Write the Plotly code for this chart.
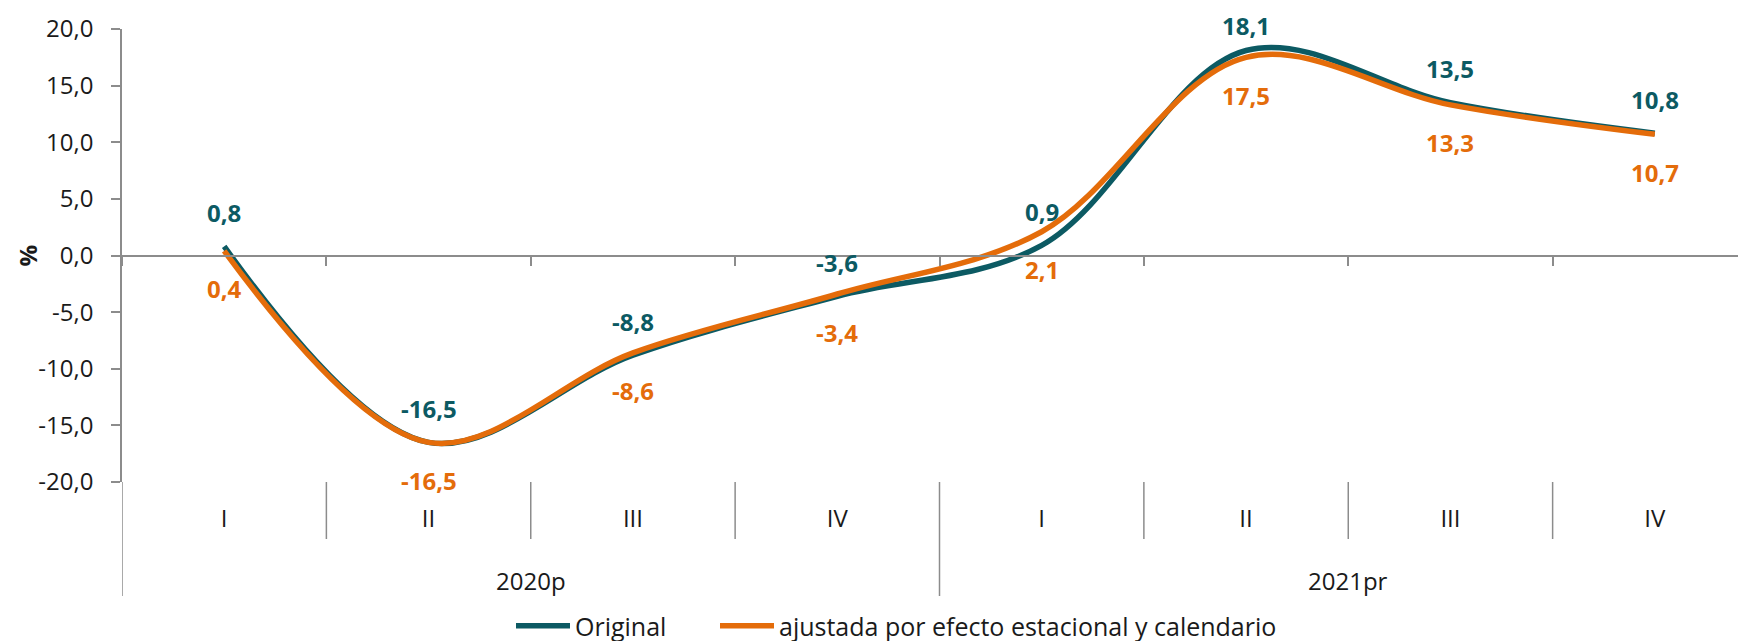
import plotly.graph_objects as go

# ---- data ----
years = ["2020p", "2021pr"]
quarters = ["I", "II", "III", "IV", "I", "II", "III", "IV"]
year_of_point = [0, 0, 0, 0, 1, 1, 1, 1]
original = [0.8, -16.5, -8.8, -3.6, 0.9, 18.1, 13.5, 10.8]
ajustada = [0.4, -16.5, -8.6, -3.4, 2.1, 17.5, 13.3, 10.7]
y_ticks = [-20, -15, -10, -5, 0, 5, 10, 15, 20]

name_orig = "Original"
name_adj = "ajustada por efecto estacional y calendario"

TEAL = "#0C5A63"
ORANGE = "#E46C0A"
GRAY = "#8C8C8C"
TXT = "#1A1A1A"
FONT = "Open Sans"
FS = 24

# page body has an 8px margin: figure coordinates = screen coordinates - 8
W, H = 1738, 633
L, T = 114, 21
PLOT_BOTTOM = 474
plot_h = PLOT_BOTTOM - T
plot_w = W - L
Y_MIN, Y_MAX = -20, 20

def fmt(v):
    return f"{v:.1f}".replace(".", ",")

def py(fig_y):
    return (PLOT_BOTTOM - fig_y) / plot_h

def px(fig_x):
    return (fig_x - L) / plot_w

def label_shift(v, shift, min_center=17):
    # keep labels inside the figure, like the source chart does
    pix = T + (Y_MAX - v) / (Y_MAX - Y_MIN) * plot_h
    center = pix - shift
    if center < min_center:
        shift = pix - min_center
    return shift

xs = list(range(len(quarters)))
n = len(quarters)
x_range = [-0.5, n - 0.5 - 11 / 204.2]

fig = go.Figure()
fig.add_trace(go.Scatter(x=xs, y=original, mode="lines", name=name_orig, legend="legend",
                         line=dict(color=TEAL, width=5.5, shape="spline", smoothing=1.0),
                         hoverinfo="skip"))
fig.add_trace(go.Scatter(x=xs, y=ajustada, mode="lines", name=name_adj, legend="legend2",
                         line=dict(color=ORANGE, width=5.5, shape="spline", smoothing=1.0),
                         hoverinfo="skip"))
# invisible trace to carry the zero-line axis
fig.add_trace(go.Scatter(x=[0], y=[0], xaxis="x2", mode="markers", marker=dict(opacity=0),
                         showlegend=False, hoverinfo="skip"))

annotations = []
for x, v in zip(xs, original):
    annotations.append(dict(x=x, y=v, xref="x", yref="y", text=f"<b>{fmt(v)}</b>", showarrow=False,
                            yshift=label_shift(v, 34), yanchor="middle", xanchor="center",
                            borderpad=0, font=dict(family=FONT, size=FS, color=TEAL)))
for x, v in zip(xs, ajustada):
    annotations.append(dict(x=x, y=v, xref="x", yref="y", text=f"<b>{fmt(v)}</b>", showarrow=False,
                            yshift=-38, yanchor="middle", xanchor="center",
                            borderpad=0, font=dict(family=FONT, size=FS, color=ORANGE)))

# year labels centred under their quarters
for yi, yname in enumerate(years):
    idx = [i for i, g in enumerate(year_of_point) if g == yi]
    annotations.append(dict(x=sum(idx) / len(idx), y=py(572), xref="x", yref="paper",
                            text=yname, showarrow=False, yanchor="middle", xanchor="center",
                            font=dict(family=FONT, size=FS, color=TXT)))

# y-axis title
annotations.append(dict(x=px(19), xref="paper", y=0.5, yref="paper", text="<b>%</b>", showarrow=False,
                        textangle=-90, xanchor="center", yanchor="middle",
                        font=dict(family=FONT, size=FS, color=TXT)))

shapes = []
for i in range(-1, n):
    b = i + 0.5
    is_year = (i == -1) or (i == n - 1) or (year_of_point[i] != year_of_point[i + 1])
    y1 = py(588) if is_year else py(531)
    shapes.append(dict(type="line", xref="x", yref="paper", x0=b, x1=b, y0=0, y1=y1,
                       line=dict(color=GRAY, width=1.5)))

leg_common = dict(orientation="h", xanchor="left", y=py(618), yanchor="middle",
                  font=dict(family=FONT, size=25, color=TXT), itemwidth=54,
                  bgcolor="rgba(0,0,0,0)")

fig.update_layout(
    width=W, height=H,
    margin=dict(l=L, r=0, t=T, b=H - PLOT_BOTTOM, autoexpand=False),
    paper_bgcolor="white", plot_bgcolor="white",
    font=dict(family=FONT, size=FS, color=TXT),
    xaxis=dict(range=x_range, tickvals=xs, ticktext=quarters, ticks="", showline=False,
               showgrid=False, zeroline=False, ticklabelstandoff=20, automargin=False,
               tickfont=dict(family=FONT, size=FS, color=TXT)),
    xaxis2=dict(range=x_range, overlaying="x", anchor="free", position=0.5, side="bottom",
                tickvals=[i + 0.5 for i in range(-1, n)], ticks="outside", ticklen=10,
                tickwidth=1.5, tickcolor=GRAY, showline=True, linecolor=GRAY, linewidth=1.5,
                showticklabels=False, showgrid=False, zeroline=False, automargin=False),
    yaxis=dict(range=[Y_MIN, Y_MAX], tickvals=y_ticks, ticktext=[fmt(v) for v in y_ticks],
               ticks="outside", ticklen=9, tickwidth=1.5, tickcolor=GRAY, showline=True,
               linecolor=GRAY, linewidth=1.5, showgrid=False, zeroline=False,
               ticklabelstandoff=13, automargin=False,
               tickfont=dict(family=FONT, size=FS, color=TXT)),
    legend=dict(x=px(503), **leg_common),
    legend2=dict(x=px(707), **leg_common),
    annotations=annotations,
    shapes=shapes,
    showlegend=True,
)

fig.write_html("out.html")
